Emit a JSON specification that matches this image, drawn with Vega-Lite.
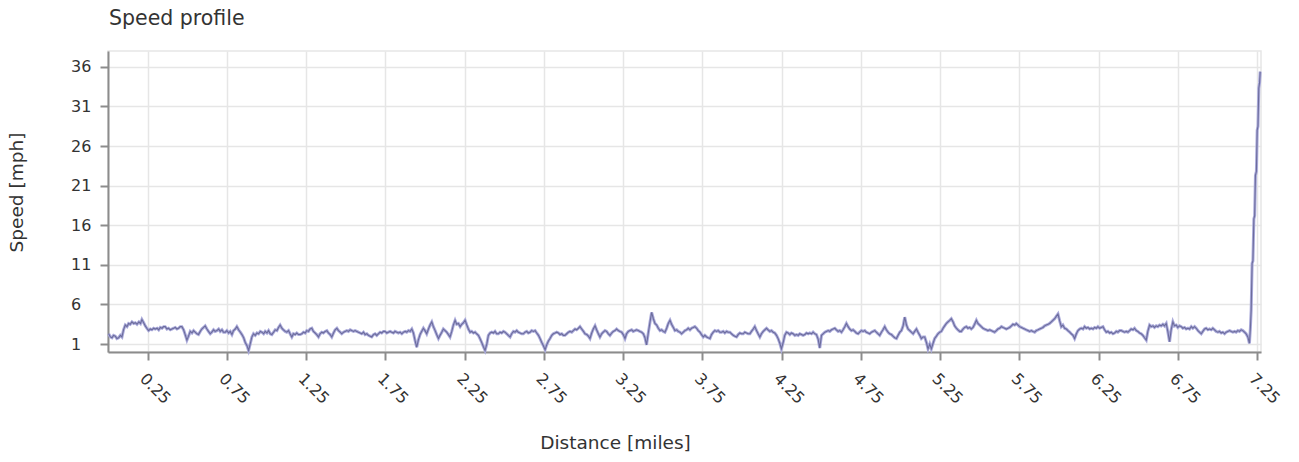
{
"$schema": "https://vega.github.io/schema/vega-lite/v6.json",
"width": 1153, "height": 301,
"autosize": {"type": "none"},
"padding": {"left": 108, "top": 51, "right": 38, "bottom": 110},
"background": "white",
"title": {"text": "Speed profile", "anchor": "start", "frame": "group", "fontSize": 20.5, "font": "DejaVu Sans", "fontWeight": "normal", "color": "#333333", "offset": 22, "dx": 1},
"config": {
  "view": {"stroke": "#e6e6e6", "strokeWidth": 1.5},
  "axis": {"domainColor": "#8c8c8c", "domainWidth": 2, "tickColor": "#8c8c8c", "tickWidth": 2, "tickSize": 8,
    "labelFont": "DejaVu Sans", "labelFontSize": 16, "labelColor": "#333333",
    "titleFont": "DejaVu Sans", "titleFontSize": 18.5, "titleFontWeight": "normal", "titleColor": "#333333",
    "gridColor": "#e6e6e6", "gridWidth": 1.5, "labelOverlap": false, "labelFlush": false}
},
"data": {"values": [
{"d":0.004,"s":2.3},{"d":0.015,"s":1.9},{"d":0.025,"s":1.8},{"d":0.035,"s":2.1},{"d":0.046,"s":2.0},{"d":0.056,"s":1.7},{"d":0.067,"s":1.8},{"d":0.078,"s":2.1},{"d":0.088,"s":1.9},{"d":0.098,"s":2.8},
{"d":0.109,"s":3.4},{"d":0.12,"s":3.2},{"d":0.13,"s":3.6},{"d":0.14,"s":3.5},{"d":0.151,"s":3.8},{"d":0.162,"s":3.6},{"d":0.172,"s":3.7},{"d":0.183,"s":3.5},{"d":0.195,"s":3.8},{"d":0.205,"s":3.6},
{"d":0.214,"s":4.1},{"d":0.225,"s":3.7},{"d":0.235,"s":3.3},{"d":0.245,"s":3.0},{"d":0.256,"s":2.7},{"d":0.267,"s":2.9},{"d":0.277,"s":2.8},{"d":0.288,"s":3.0},{"d":0.298,"s":2.9},{"d":0.31,"s":3.0},
{"d":0.32,"s":2.8},{"d":0.33,"s":3.1},{"d":0.341,"s":3.0},{"d":0.351,"s":3.2},{"d":0.361,"s":3.2},{"d":0.372,"s":2.9},{"d":0.382,"s":3.0},{"d":0.393,"s":2.8},{"d":0.403,"s":2.9},{"d":0.414,"s":3.0},
{"d":0.424,"s":3.1},{"d":0.435,"s":2.9},{"d":0.445,"s":3.0},{"d":0.456,"s":3.2},{"d":0.466,"s":3.2},{"d":0.477,"s":2.8},{"d":0.487,"s":2.2},{"d":0.498,"s":1.5},{"d":0.508,"s":2.0},{"d":0.519,"s":2.6},
{"d":0.53,"s":2.4},{"d":0.54,"s":2.7},{"d":0.55,"s":2.5},{"d":0.561,"s":2.3},{"d":0.571,"s":2.2},{"d":0.582,"s":2.6},{"d":0.592,"s":2.9},{"d":0.603,"s":3.1},{"d":0.613,"s":3.3},{"d":0.624,"s":2.9},
{"d":0.634,"s":2.6},{"d":0.645,"s":2.3},{"d":0.655,"s":2.5},{"d":0.666,"s":2.8},{"d":0.676,"s":2.6},{"d":0.687,"s":2.7},{"d":0.698,"s":2.9},{"d":0.708,"s":2.6},{"d":0.719,"s":2.8},{"d":0.729,"s":2.5},
{"d":0.74,"s":2.5},{"d":0.75,"s":2.7},{"d":0.761,"s":2.4},{"d":0.771,"s":2.6},{"d":0.782,"s":2.2},{"d":0.792,"s":2.7},{"d":0.803,"s":2.9},{"d":0.813,"s":3.2},{"d":0.824,"s":2.8},{"d":0.835,"s":2.5},
{"d":0.845,"s":2.2},{"d":0.856,"s":1.8},{"d":0.866,"s":1.2},{"d":0.877,"s":0.8},{"d":0.887,"s":0.2},{"d":0.897,"s":1.0},{"d":0.908,"s":1.9},{"d":0.918,"s":2.3},{"d":0.929,"s":2.1},{"d":0.94,"s":2.4},
{"d":0.95,"s":2.3},{"d":0.961,"s":2.6},{"d":0.971,"s":2.5},{"d":0.982,"s":2.3},{"d":0.992,"s":2.6},{"d":1.003,"s":2.4},{"d":1.013,"s":2.7},{"d":1.024,"s":2.3},{"d":1.034,"s":2.2},{"d":1.045,"s":2.5},
{"d":1.055,"s":2.8},{"d":1.066,"s":2.7},{"d":1.076,"s":3.1},{"d":1.086,"s":3.4},{"d":1.097,"s":3.0},{"d":1.107,"s":2.8},{"d":1.118,"s":2.6},{"d":1.128,"s":2.5},{"d":1.139,"s":2.7},{"d":1.149,"s":2.3},
{"d":1.16,"s":1.9},{"d":1.17,"s":2.3},{"d":1.181,"s":2.2},{"d":1.191,"s":2.4},
{"d":1.202,"s":2.2},{"d":1.212,"s":2.2},{"d":1.223,"s":2.3},{"d":1.233,"s":2.5},{"d":1.244,"s":2.4},{"d":1.254,"s":2.7},{"d":1.265,"s":2.6},{"d":1.275,"s":2.9},{"d":1.286,"s":3.0},{"d":1.296,"s":2.6},
{"d":1.307,"s":2.4},{"d":1.317,"s":2.2},{"d":1.328,"s":1.9},{"d":1.338,"s":2.3},{"d":1.349,"s":2.5},{"d":1.359,"s":2.4},{"d":1.37,"s":2.6},{"d":1.381,"s":2.7},{"d":1.391,"s":2.4},{"d":1.402,"s":2.2},
{"d":1.412,"s":1.9},{"d":1.423,"s":2.4},{"d":1.433,"s":2.8},{"d":1.444,"s":3.0},{"d":1.454,"s":2.7},{"d":1.465,"s":2.5},{"d":1.475,"s":2.3},{"d":1.486,"s":2.5},{"d":1.496,"s":2.6},{"d":1.507,"s":2.7},
{"d":1.517,"s":2.6},{"d":1.528,"s":2.8},{"d":1.538,"s":2.7},{"d":1.549,"s":2.6},{"d":1.559,"s":2.7},{"d":1.57,"s":2.6},{"d":1.58,"s":2.5},{"d":1.591,"s":2.4},{"d":1.601,"s":2.3},{"d":1.612,"s":2.5},
{"d":1.622,"s":2.2},{"d":1.633,"s":2.3},{"d":1.643,"s":2.1},{"d":1.654,"s":2.0},{"d":1.664,"s":1.9},{"d":1.675,"s":2.2},{"d":1.685,"s":2.3},{"d":1.696,"s":2.1},{"d":1.706,"s":2.3},{"d":1.717,"s":2.5},
{"d":1.727,"s":2.4},{"d":1.738,"s":2.6},{"d":1.748,"s":2.6},{"d":1.759,"s":2.4},{"d":1.769,"s":2.5},{"d":1.78,"s":2.6},{"d":1.79,"s":2.5},{"d":1.801,"s":2.4},{"d":1.811,"s":2.6},{"d":1.822,"s":2.5},
{"d":1.832,"s":2.4},{"d":1.843,"s":2.5},{"d":1.854,"s":2.3},{"d":1.864,"s":2.5},{"d":1.875,"s":2.6},{"d":1.885,"s":2.5},{"d":1.896,"s":2.7},{"d":1.906,"s":2.6},{"d":1.917,"s":2.9},{"d":1.927,"s":2.4},
{"d":1.938,"s":1.4},{"d":1.948,"s":0.6},{"d":1.958,"s":1.5},{"d":1.969,"s":2.2},{"d":1.979,"s":2.6},{"d":1.99,"s":3.0},{"d":2.0,"s":2.7},{"d":2.011,"s":2.3},{"d":2.022,"s":2.9},{"d":2.032,"s":3.4},
{"d":2.043,"s":3.8},{"d":2.053,"s":3.2},{"d":2.064,"s":2.7},{"d":2.074,"s":2.2},{"d":2.085,"s":1.7},{"d":2.095,"s":2.1},{"d":2.106,"s":2.5},{"d":2.116,"s":2.9},{"d":2.127,"s":2.7},{"d":2.137,"s":2.5},
{"d":2.148,"s":2.2},{"d":2.158,"s":1.9},{"d":2.169,"s":2.6},{"d":2.179,"s":3.4},{"d":2.19,"s":4.0},{"d":2.2,"s":3.5},{"d":2.211,"s":3.6},{"d":2.222,"s":3.2},{"d":2.232,"s":3.5},{"d":2.243,"s":3.7},
{"d":2.253,"s":4.0},{"d":2.264,"s":3.4},{"d":2.274,"s":2.9},{"d":2.285,"s":2.5},{"d":2.295,"s":2.6},{"d":2.306,"s":2.4},{"d":2.316,"s":2.5},{"d":2.326,"s":2.3},{"d":2.337,"s":2.1},{"d":2.347,"s":1.7},
{"d":2.358,"s":1.2},{"d":2.368,"s":0.7},{"d":2.379,"s":0.2},{"d":2.39,"s":1.0},{"d":2.4,"s":2.1},
{"d":2.411,"s":2.4},{"d":2.421,"s":2.5},{"d":2.432,"s":2.4},{"d":2.442,"s":2.6},{"d":2.453,"s":2.3},{"d":2.463,"s":2.3},{"d":2.474,"s":2.5},{"d":2.484,"s":2.4},{"d":2.495,"s":2.6},{"d":2.505,"s":2.5},
{"d":2.516,"s":2.3},{"d":2.526,"s":2.1},{"d":2.537,"s":1.9},{"d":2.547,"s":2.3},{"d":2.558,"s":2.6},{"d":2.568,"s":2.5},{"d":2.579,"s":2.7},{"d":2.589,"s":2.5},{"d":2.6,"s":2.4},{"d":2.61,"s":2.3},
{"d":2.621,"s":2.3},{"d":2.631,"s":2.5},{"d":2.642,"s":2.6},{"d":2.652,"s":2.4},{"d":2.663,"s":2.5},{"d":2.673,"s":2.7},{"d":2.684,"s":2.6},{"d":2.695,"s":2.7},{"d":2.705,"s":2.4},{"d":2.716,"s":2.1},
{"d":2.726,"s":1.7},{"d":2.737,"s":1.2},{"d":2.747,"s":0.8},{"d":2.758,"s":0.3},{"d":2.768,"s":0.9},{"d":2.779,"s":1.4},{"d":2.789,"s":1.7},{"d":2.8,"s":2.1},{"d":2.81,"s":2.3},{"d":2.821,"s":2.4},
{"d":2.831,"s":2.5},{"d":2.842,"s":2.4},{"d":2.852,"s":2.2},{"d":2.863,"s":2.3},{"d":2.873,"s":2.1},{"d":2.883,"s":2.1},{"d":2.894,"s":2.3},{"d":2.905,"s":2.5},{"d":2.915,"s":2.6},{"d":2.926,"s":2.5},
{"d":2.936,"s":2.7},{"d":2.947,"s":2.9},{"d":2.957,"s":2.8},{"d":2.968,"s":3.0},{"d":2.978,"s":3.2},{"d":2.989,"s":2.9},{"d":3.0,"s":2.6},{"d":3.01,"s":2.3},{"d":3.021,"s":2.2},{"d":3.031,"s":2.0},
{"d":3.041,"s":1.7},{"d":3.052,"s":2.4},{"d":3.062,"s":2.9},{"d":3.073,"s":3.3},{"d":3.083,"s":2.8},{"d":3.094,"s":2.3},{"d":3.104,"s":1.9},{"d":3.115,"s":2.3},{"d":3.125,"s":2.5},{"d":3.136,"s":2.7},
{"d":3.146,"s":2.6},{"d":3.157,"s":2.3},{"d":3.167,"s":2.1},{"d":3.178,"s":2.4},{"d":3.188,"s":2.6},{"d":3.199,"s":2.7},{"d":3.209,"s":2.9},{"d":3.22,"s":2.7},{"d":3.23,"s":2.6},{"d":3.241,"s":2.5},
{"d":3.251,"s":2.2},{"d":3.262,"s":1.7},{"d":3.272,"s":2.3},{"d":3.283,"s":2.6},{"d":3.293,"s":2.7},{"d":3.304,"s":2.8},{"d":3.314,"s":2.6},{"d":3.325,"s":2.7},{"d":3.335,"s":2.8},{"d":3.346,"s":2.7},
{"d":3.356,"s":2.6},{"d":3.367,"s":2.5},{"d":3.378,"s":2.3},{"d":3.388,"s":1.8},{"d":3.398,"s":0.9},{"d":3.409,"s":2.4},{"d":3.42,"s":3.8},{"d":3.43,"s":5.0},{"d":3.441,"s":4.2},{"d":3.451,"s":3.6},
{"d":3.462,"s":3.4},{"d":3.472,"s":3.0},{"d":3.483,"s":2.7},{"d":3.493,"s":2.8},{"d":3.504,"s":2.6},{"d":3.514,"s":2.5},{"d":3.525,"s":3.0},{"d":3.535,"s":3.6},{"d":3.546,"s":4.0},{"d":3.556,"s":3.5},
{"d":3.567,"s":3.1},{"d":3.577,"s":2.7},{"d":3.588,"s":2.8},{"d":3.598,"s":2.6},{"d":3.609,"s":2.5},
{"d":3.619,"s":2.3},{"d":3.63,"s":2.5},{"d":3.64,"s":2.7},{"d":3.651,"s":2.8},{"d":3.661,"s":3.0},{"d":3.672,"s":2.8},{"d":3.682,"s":3.0},{"d":3.693,"s":3.1},{"d":3.703,"s":3.2},{"d":3.714,"s":3.0},
{"d":3.724,"s":2.7},{"d":3.735,"s":2.5},{"d":3.745,"s":2.2},{"d":3.756,"s":1.9},{"d":3.766,"s":2.1},{"d":3.777,"s":1.9},{"d":3.787,"s":1.8},{"d":3.798,"s":1.7},{"d":3.808,"s":2.2},{"d":3.819,"s":2.5},
{"d":3.829,"s":2.7},{"d":3.84,"s":2.6},{"d":3.85,"s":2.7},{"d":3.861,"s":2.5},{"d":3.871,"s":2.5},{"d":3.882,"s":2.6},{"d":3.892,"s":2.4},{"d":3.903,"s":2.6},{"d":3.913,"s":2.5},{"d":3.924,"s":2.5},
{"d":3.934,"s":2.3},{"d":3.945,"s":2.1},{"d":3.955,"s":2.0},{"d":3.966,"s":1.9},{"d":3.976,"s":2.2},{"d":3.987,"s":2.4},{"d":3.997,"s":2.3},{"d":4.008,"s":2.3},{"d":4.018,"s":2.5},{"d":4.029,"s":2.4},
{"d":4.039,"s":2.3},{"d":4.05,"s":2.3},{"d":4.06,"s":2.6},{"d":4.071,"s":2.9},{"d":4.081,"s":3.2},{"d":4.092,"s":2.7},{"d":4.102,"s":2.3},{"d":4.113,"s":1.9},{"d":4.123,"s":2.3},{"d":4.134,"s":2.6},
{"d":4.144,"s":2.8},{"d":4.155,"s":3.0},{"d":4.165,"s":2.8},{"d":4.176,"s":2.6},{"d":4.186,"s":2.7},{"d":4.197,"s":2.5},{"d":4.207,"s":2.4},{"d":4.218,"s":2.1},{"d":4.228,"s":1.7},{"d":4.239,"s":1.1},
{"d":4.249,"s":0.4},{"d":4.26,"s":1.2},{"d":4.27,"s":2.1},{"d":4.281,"s":2.5},{"d":4.291,"s":2.4},{"d":4.302,"s":2.2},{"d":4.312,"s":2.4},{"d":4.323,"s":2.3},{"d":4.334,"s":2.1},{"d":4.344,"s":2.2},
{"d":4.355,"s":2.1},{"d":4.365,"s":2.3},{"d":4.376,"s":2.2},{"d":4.386,"s":2.1},{"d":4.397,"s":2.2},{"d":4.407,"s":2.4},{"d":4.418,"s":2.3},{"d":4.428,"s":2.4},{"d":4.439,"s":2.3},{"d":4.449,"s":2.5},
{"d":4.46,"s":2.3},{"d":4.47,"s":2.2},{"d":4.481,"s":1.6},{"d":4.491,"s":0.5},{"d":4.502,"s":2.1},{"d":4.512,"s":2.3},{"d":4.523,"s":2.5},{"d":4.533,"s":2.6},{"d":4.544,"s":2.7},{"d":4.554,"s":2.6},
{"d":4.565,"s":2.8},{"d":4.575,"s":2.9},{"d":4.586,"s":3.0},{"d":4.596,"s":2.8},{"d":4.607,"s":2.6},{"d":4.617,"s":2.7},{"d":4.628,"s":2.5},{"d":4.638,"s":2.8},{"d":4.649,"s":3.2},{"d":4.659,"s":3.6},
{"d":4.67,"s":3.2},{"d":4.68,"s":2.9},{"d":4.691,"s":2.7},{"d":4.701,"s":2.8},{"d":4.712,"s":2.6},{"d":4.722,"s":2.4},{"d":4.733,"s":2.3},{"d":4.743,"s":2.5},{"d":4.754,"s":2.7},{"d":4.764,"s":2.6},
{"d":4.775,"s":2.7},{"d":4.785,"s":2.5},{"d":4.796,"s":2.4},
{"d":4.806,"s":2.3},{"d":4.817,"s":2.5},{"d":4.827,"s":2.6},{"d":4.838,"s":2.7},{"d":4.848,"s":2.5},{"d":4.859,"s":2.3},{"d":4.869,"s":2.1},{"d":4.88,"s":2.5},{"d":4.89,"s":2.8},{"d":4.901,"s":3.2},
{"d":4.911,"s":2.8},{"d":4.922,"s":2.5},{"d":4.932,"s":2.3},{"d":4.943,"s":2.2},{"d":4.953,"s":2.0},{"d":4.964,"s":1.8},{"d":4.975,"s":1.7},{"d":4.985,"s":2.1},{"d":4.996,"s":2.5},{"d":5.006,"s":2.7},
{"d":5.017,"s":3.3},{"d":5.027,"s":4.4},{"d":5.038,"s":3.4},{"d":5.048,"s":2.9},{"d":5.059,"s":2.7},{"d":5.069,"s":2.5},{"d":5.08,"s":2.3},{"d":5.09,"s":2.6},{"d":5.101,"s":2.9},{"d":5.111,"s":2.5},
{"d":5.122,"s":2.1},{"d":5.132,"s":1.7},{"d":5.143,"s":1.9},{"d":5.153,"s":1.9},{"d":5.164,"s":1.2},{"d":5.174,"s":0.4},{"d":5.185,"s":1.0},{"d":5.195,"s":0.4},{"d":5.206,"s":1.1},{"d":5.216,"s":1.7},
{"d":5.227,"s":2.0},{"d":5.237,"s":2.3},{"d":5.248,"s":2.5},{"d":5.258,"s":2.6},{"d":5.269,"s":3.0},{"d":5.279,"s":3.3},{"d":5.29,"s":3.6},{"d":5.3,"s":3.8},{"d":5.311,"s":4.0},{"d":5.321,"s":4.2},
{"d":5.332,"s":3.8},{"d":5.342,"s":3.3},{"d":5.353,"s":3.0},{"d":5.363,"s":2.8},{"d":5.374,"s":2.6},{"d":5.384,"s":2.6},{"d":5.395,"s":2.9},{"d":5.405,"s":3.1},{"d":5.416,"s":3.2},{"d":5.426,"s":3.0},
{"d":5.437,"s":3.1},{"d":5.447,"s":2.9},{"d":5.458,"s":3.1},{"d":5.468,"s":3.5},{"d":5.479,"s":4.0},{"d":5.489,"s":3.6},{"d":5.5,"s":3.4},{"d":5.51,"s":3.2},{"d":5.521,"s":3.0},{"d":5.531,"s":2.9},
{"d":5.542,"s":2.8},{"d":5.552,"s":2.7},{"d":5.563,"s":2.8},{"d":5.573,"s":2.7},{"d":5.584,"s":2.6},{"d":5.594,"s":2.5},{"d":5.605,"s":2.7},{"d":5.615,"s":2.9},{"d":5.626,"s":3.0},{"d":5.637,"s":3.2},
{"d":5.647,"s":3.1},{"d":5.658,"s":3.0},{"d":5.668,"s":2.9},{"d":5.679,"s":3.0},{"d":5.689,"s":3.1},{"d":5.7,"s":3.3},{"d":5.71,"s":3.5},{"d":5.721,"s":3.4},{"d":5.731,"s":3.6},{"d":5.742,"s":3.4},
{"d":5.752,"s":3.2},{"d":5.763,"s":3.1},{"d":5.773,"s":3.0},{"d":5.784,"s":2.9},{"d":5.794,"s":2.8},{"d":5.805,"s":2.7},{"d":5.815,"s":2.6},{"d":5.826,"s":2.7},{"d":5.836,"s":2.6},{"d":5.847,"s":2.5},
{"d":5.857,"s":2.7},{"d":5.868,"s":2.8},{"d":5.878,"s":2.9},{"d":5.889,"s":3.0},{"d":5.899,"s":3.1},{"d":5.91,"s":3.3},{"d":5.92,"s":3.4},{"d":5.931,"s":3.5},{"d":5.941,"s":3.6},{"d":5.952,"s":3.8},
{"d":5.962,"s":4.0},{"d":5.973,"s":4.2},{"d":5.983,"s":4.5},{"d":5.994,"s":4.8},
{"d":6.004,"s":4.0},{"d":6.015,"s":3.2},{"d":6.025,"s":3.4},{"d":6.036,"s":3.0},{"d":6.047,"s":2.9},{"d":6.057,"s":2.7},{"d":6.068,"s":2.5},{"d":6.078,"s":2.3},{"d":6.089,"s":2.1},{"d":6.099,"s":1.7},
{"d":6.11,"s":2.3},{"d":6.12,"s":2.7},{"d":6.131,"s":2.9},{"d":6.141,"s":3.0},{"d":6.152,"s":2.9},{"d":6.162,"s":3.2},{"d":6.173,"s":3.0},{"d":6.183,"s":3.1},{"d":6.194,"s":2.9},{"d":6.204,"s":3.0},
{"d":6.215,"s":2.9},{"d":6.225,"s":3.1},{"d":6.236,"s":3.0},{"d":6.246,"s":3.2},{"d":6.257,"s":3.0},{"d":6.267,"s":3.1},{"d":6.278,"s":3.2},{"d":6.288,"s":2.8},{"d":6.299,"s":2.5},{"d":6.309,"s":2.6},
{"d":6.32,"s":2.4},{"d":6.33,"s":2.5},{"d":6.341,"s":2.3},{"d":6.351,"s":2.4},{"d":6.362,"s":2.6},{"d":6.372,"s":2.5},{"d":6.383,"s":2.7},{"d":6.393,"s":2.7},{"d":6.404,"s":2.6},{"d":6.414,"s":2.5},
{"d":6.425,"s":2.6},{"d":6.435,"s":2.5},{"d":6.446,"s":2.7},{"d":6.456,"s":2.9},{"d":6.467,"s":2.8},{"d":6.477,"s":3.0},{"d":6.488,"s":2.7},{"d":6.498,"s":2.6},{"d":6.509,"s":2.4},{"d":6.519,"s":2.3},
{"d":6.53,"s":2.1},{"d":6.54,"s":1.8},{"d":6.551,"s":1.5},{"d":6.561,"s":2.6},{"d":6.572,"s":3.4},{"d":6.582,"s":3.2},{"d":6.593,"s":3.3},{"d":6.603,"s":3.1},{"d":6.614,"s":3.3},{"d":6.624,"s":3.2},
{"d":6.635,"s":3.4},{"d":6.645,"s":3.3},{"d":6.656,"s":3.5},{"d":6.666,"s":3.3},{"d":6.677,"s":3.6},{"d":6.687,"s":2.6},{"d":6.698,"s":1.3},{"d":6.708,"s":2.8},{"d":6.719,"s":3.8},{"d":6.729,"s":3.3},
{"d":6.74,"s":3.4},{"d":6.75,"s":3.1},{"d":6.761,"s":3.3},{"d":6.772,"s":3.2},{"d":6.782,"s":3.0},{"d":6.793,"s":3.1},{"d":6.803,"s":2.9},{"d":6.814,"s":3.0},{"d":6.824,"s":2.9},{"d":6.835,"s":3.2},
{"d":6.845,"s":3.0},{"d":6.856,"s":3.2},{"d":6.866,"s":3.0},{"d":6.877,"s":2.7},{"d":6.887,"s":2.5},{"d":6.898,"s":2.3},{"d":6.908,"s":2.6},{"d":6.919,"s":2.9},{"d":6.929,"s":3.0},{"d":6.94,"s":2.8},
{"d":6.95,"s":2.9},{"d":6.961,"s":2.8},{"d":6.971,"s":3.0},{"d":6.982,"s":2.8},{"d":6.992,"s":2.6},{"d":7.003,"s":2.5},{"d":7.013,"s":2.6},{"d":7.024,"s":2.4},{"d":7.034,"s":2.5},{"d":7.045,"s":2.3},
{"d":7.055,"s":2.5},{"d":7.066,"s":2.6},{"d":7.077,"s":2.7},{"d":7.087,"s":2.6},{"d":7.098,"s":2.5},{"d":7.108,"s":2.6},{"d":7.118,"s":2.5},{"d":7.129,"s":2.7},{"d":7.139,"s":2.6},{"d":7.15,"s":2.8},
{"d":7.16,"s":2.7},{"d":7.171,"s":2.5},{"d":7.181,"s":2.3},{"d":7.192,"s":1.9},{"d":7.202,"s":1.1},{"d":7.208,"s":3.0},{"d":7.213,"s":5.3},{"d":7.219,"s":11.2},{"d":7.224,"s":11.5},{"d":7.23,"s":16.8},
{"d":7.235,"s":17.2},{"d":7.24,"s":22.3},{"d":7.246,"s":22.8},{"d":7.251,"s":28.0},{"d":7.256,"s":28.5},{"d":7.261,"s":33.3},{"d":7.266,"s":34.0},{"d":7.27,"s":35.4}
]},
"encoding": {
  "x": {"field": "d", "type": "quantitative",
    "scale": {"domain": [0, 7.275], "nice": false, "zero": false},
    "axis": {"title": "Distance [miles]", "values": [0.25,0.75,1.25,1.75,2.25,2.75,3.25,3.75,4.25,4.75,5.25,5.75,6.25,6.75,7.25],
      "format": ".2f", "labelAngle": 45, "labelAlign": "left", "labelBaseline": "top", "labelPadding": 10,
      "titleX": 507, "titleY": 90, "titleBaseline": "middle", "titleAlign": "center"}},
  "y": {"field": "s", "type": "quantitative",
    "scale": {"domain": [0, 38], "nice": false},
    "axis": {"title": "Speed [mph]", "values": [1,6,11,16,21,26,31,36],
      "labelAlign": "left", "labelPadding": 29.5, "labelBaseline": "middle",
      "titleX": -82, "titleY": 141, "titleBaseline": "bottom", "titleAlign": "center", "titleAngle": -90}}
},
"layer": [
  {"mark": {"type": "line", "color": "#ababdb", "strokeWidth": 3}},
  {"mark": {"type": "line", "color": "#6c6c9c", "strokeWidth": 1.1}}
]
}
